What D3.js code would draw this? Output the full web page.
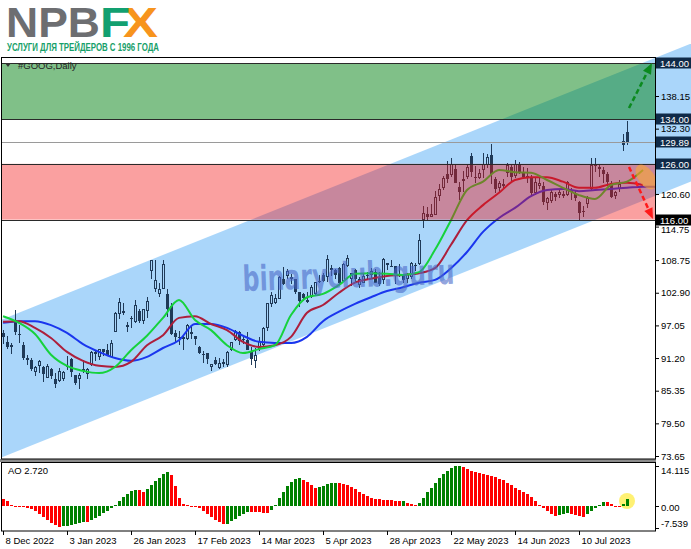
<!DOCTYPE html>
<html><head><meta charset="utf-8">
<script src="https://cdn.jsdelivr.net/npm/d3@7"></script>
<style>html,body{margin:0;padding:0;background:#fff;overflow:hidden}text{font-family:"Liberation Sans",Arial,sans-serif}</style>
</head><body><svg id="c" width="691" height="549"></svg>
<script>
// ---------- DATA ----------
const openP=[95.7,94.0,93.1,98.1,95.5,93.5,91.2,90.9,88.7,89.7,
89.6,87.6,89.3,87.5,87.0,87.4,89.8,91.0,88.1,87.4,
89.2,88.4,90.0,92.3,91.3,92.8,92.6,91.4,95.9,99.1,
99.6,97.1,98.3,97.6,99.6,97.9,99.7,106.8,103.5,102.7,
103.6,102.7,100.5,95.7,95.0,94.7,94.7,95.5,95.1,93.2,
91.9,92.1,89.6,90.9,89.5,90.2,89.9,92.7,94.4,95.9,
94.4,94.5,92.5,90.6,92.9,93.5,96.6,100.8,101.1,101.8,
105.3,105.9,105.7,105.4,103.0,102.7,101.6,102.2,102.7,104.8,
106.1,105.8,107.4,106.9,107.4,105.0,107.7,105.4,107.0,104.2,
104.7,106.1,106.1,106.6,105.6,105.2,107.8,107.7,107.7,106.2,
106.2,105.3,105.8,107.7,108.1,115.9,117.0,116.5,116.9,120.2,
121.6,124.2,124.0,125.1,121.9,123.3,123.6,127.4,123.7,123.5,
124.9,125.8,127.6,123.2,121.6,122.4,124.4,125.5,123.8,125.9,
124.5,123.5,123.7,120.8,122.1,122.0,118.9,119.3,120.6,120.5,
120.3,120.4,121.2,120.6,119.1,117.6,118.8,121.5,125.7,125.5,
124.9,124.1,122.5,120.3,121.5,130.1,131.7];
const highP=[96.2,95.2,93.9,99.8,97.2,94.0,91.8,91.2,89.8,90.9,
89.8,90.1,89.5,88.5,89.4,88.8,91.6,91.2,88.2,88.5,
90.8,89.4,92.5,92.6,92.9,92.9,93.8,94.4,99.4,101.9,
101.0,97.7,98.8,101.6,100.0,99.9,102.2,108.8,108.7,104.7,
108.7,103.6,101.0,96.3,96.0,95.2,97.3,97.0,95.2,93.4,
92.5,92.1,90.2,91.3,91.2,91.0,92.4,94.1,96.3,96.1,
95.1,95.9,93.2,93.0,94.9,96.7,101.1,103.0,102.6,105.9,
107.5,107.1,106.2,105.4,103.0,102.8,103.0,104.2,104.9,106.1,
106.5,109.6,107.9,107.2,107.6,108.2,109.6,106.5,107.1,105.7,
106.4,106.6,107.3,107.1,106.6,109.1,108.3,108.7,107.7,108.1,
106.3,106.4,108.4,108.2,113.5,118.4,118.3,118.8,121.2,122.3,
123.9,126.5,127.1,126.0,122.8,124.8,126.0,127.9,125.6,125.0,
128.0,127.8,129.5,123.6,123.0,123.3,126.1,125.9,126.7,126.4,
125.5,125.2,124.0,123.4,123.4,122.7,120.1,121.4,121.0,121.3,
121.2,123.0,121.7,121.3,119.3,118.5,120.2,127.0,127.1,126.0,
125.4,124.6,123.0,121.2,123.1,131.4,133.6];
const lowP=[93.8,92.9,91.9,95.4,93.9,90.8,90.0,88.9,88.0,88.6,
86.9,87.6,87.5,85.9,86.9,87.0,89.0,87.8,86.4,85.6,
88.6,87.4,89.7,90.6,90.9,91.5,91.8,91.4,95.9,98.2,
98.9,95.9,96.6,97.4,97.5,97.3,98.4,105.3,103.1,102.2,
103.5,98.5,95.4,94.0,93.6,92.6,94.4,94.7,93.5,92.0,
90.3,90.1,88.9,89.9,89.3,89.6,89.6,92.4,94.3,93.6,
93.8,92.6,90.0,89.4,92.5,93.3,96.1,100.3,100.8,101.8,
104.2,105.4,104.4,102.6,100.3,101.5,101.0,101.9,102.4,104.6,
104.8,104.8,105.9,105.3,104.5,104.9,107.6,104.1,104.9,103.8,
104.6,105.1,105.3,104.6,104.1,104.5,107.0,107.5,104.5,105.8,
104.7,104.7,105.3,106.8,107.8,114.5,115.7,116.5,116.8,119.4,
121.3,122.5,123.6,122.6,119.5,121.0,123.3,123.7,122.6,123.3,
123.5,125.2,122.4,120.8,120.9,121.6,123.6,123.0,123.5,124.1,
123.3,122.6,120.4,120.4,121.4,118.7,117.8,118.9,119.3,119.9,
119.8,120.2,119.6,119.3,115.8,116.4,118.0,121.3,124.6,123.6,
122.6,122.0,119.8,119.7,120.9,128.3,129.3];
const closeP=[94.9,93.1,93.6,95.9,95.3,91.2,90.9,89.2,89.6,90.6,
88.3,89.8,87.9,86.5,88.9,88.7,89.7,88.7,86.8,88.2,
88.8,89.2,92.3,91.9,92.8,92.2,91.8,93.9,99.3,101.2,
99.2,96.7,98.2,100.7,97.9,99.9,101.4,108.8,105.2,103.6,
108.0,100.0,95.5,94.9,95.0,94.95,97.1,95.8,94.6,92.1,
91.8,91.1,90.1,90.1,90.3,90.5,92.3,94.0,96.0,94.2,
94.65,92.7,91.0,91.7,94.3,96.6,101.1,102.5,102.0,105.8,
104.4,106.8,105.4,103.1,101.4,101.9,101.3,104.0,104.9,105.0,
104.95,108.9,106.95,106.1,104.6,108.0,109.2,106.4,105.3,105.4,
105.9,105.9,106.8,104.6,104.5,108.9,108.2,107.7,105.98,106.1,
105.2,106.2,108.2,107.9,112.3,117.2,116.5,117.0,120.1,121.5,
123.5,123.3,125.9,122.6,120.9,122.9,125.4,124.6,123.4,124.4,
126.0,127.3,124.2,121.4,122.5,122.0,125.7,123.7,125.9,124.4,
123.6,123.9,120.7,122.8,122.5,119.1,119.8,121.0,120.0,121.0,
120.6,122.7,120.9,119.9,117.1,117.6,119.9,125.8,125.6,125.0,
124.1,122.8,120.1,120.9,122.3,129.3,129.89];

// Alligator lines, one value every 4 bars (bar 0, 4, 8, ...)
const lineStep=4;
const lipsGreen=[98.7,97.5,95.5,91.8,89.8,88.9,88.5,89.6,92.6,95.2,98.4,101.6,98.0,96.2,93.5,92.1,92.8,93.5,98.9,102.1,102.7,104.3,106.3,106.4,106.3,106.1,106.6,110.6,115.9,121.3,122.8,124.9,124.5,124.4,123.1,121.7,120.4,119.7,122.2,122.8,124.9];
const teethRed=[97.7,97.8,96.6,94.8,92.3,90.7,89.8,89.6,90.5,93.5,95.3,98.4,98.7,97.3,96.2,94.1,93.2,93.5,95.0,99.3,100.7,102.9,104.7,105.4,105.9,106.1,106.4,107.3,111.5,115.9,118.6,120.8,123.1,123.6,123.6,122.8,121.7,121.7,122.4,122.6,122.2];
const jawBlue=[97.5,97.8,97.8,97.1,95.7,93.7,92.3,91.2,90.7,91.4,93.0,94.4,97.3,97.3,96.6,95.2,94.1,93.9,93.9,95.0,97.8,99.5,100.9,102.1,103.2,103.9,104.7,105.2,107.3,110.2,113.8,116.3,118.1,120.2,121.3,121.5,121.1,121.3,121.5,121.7,121.9,121.9];

// Awesome Oscillator
const aoValues=[2.7,1.8,0.4,0.1,-0.1,-0.2,-0.5,-1.0,-1.7,-2.6,
-3.6,-4.7,-5.7,-6.6,-7.1,-7.0,-6.8,-6.5,-6.2,-5.8,
-5.3,-5.4,-4.8,-4.0,-3.2,-2.3,-1.5,-0.5,0.4,1.9,
3.3,4.5,5.3,5.9,5.8,5.0,6.2,7.5,8.8,9.8,
11.2,12.0,10.8,7.0,3.0,1.0,0.5,0.2,-0.1,-0.7,
-1.5,-2.6,-3.7,-4.8,-5.6,-6.2,-6.0,-5.2,-4.3,-3.4,
-2.6,-1.9,-2.0,-2.1,-2.1,-2.3,-2.3,-1.2,0.6,3.0,
5.2,7.0,8.6,9.5,9.8,9.4,8.4,7.5,6.4,6.8,
7.3,7.8,8.1,8.3,8.2,8.0,7.4,6.7,6.0,5.1,
4.3,3.6,3.0,2.6,2.5,2.4,2.3,2.2,1.9,1.8,
1.9,1.3,0.8,0.5,1.3,3.0,4.9,6.6,8.3,9.8,
11.2,12.3,13.3,14.0,14.1,13.6,13.0,12.5,12.0,11.6,
11.3,11.0,10.7,10.3,9.7,9.1,8.3,7.4,6.6,5.8,
5.0,4.2,3.3,2.0,0.6,-0.5,-1.6,-2.5,-3.2,-2.9,
-2.6,-2.4,-2.5,-2.9,-3.3,-3.6,-2.7,-1.5,-0.4,0.6,
1.6,1.5,1.0,0.3,-0.2,1.0,2.72];

const dateLabels=["8 Dec 2022","3 Jan 2023","26 Jan 2023","17 Feb 2023","14 Mar 2023","5 Apr 2023","28 Apr 2023","22 May 2023","14 Jun 2023","10 Jul 2023"];
const dateBars=[0,16,32,48,64,80,96,112,128,144];
const priceTicks=[138.15,132.30,120.60,114.75,108.75,102.90,97.05,91.20,85.35,79.50,73.65];
const levelBoxes=[144.00,134.00,129.89,126.00,116.00];
const greenZone=[134.00,144.00];
const redZone=[116.00,126.00];
const channelBars=[0,160];
const channelUpper=[98.2,144.1];
const channelLower=[73.5,119.4];
const aoTicks=[14.115,0.00,-7.539];
const aoLast=2.720;

// ---------- SCALES ----------
const svg=d3.select('#c');
const x=d3.scaleLinear().domain([0,1]).range([3,7]);
const y=d3.scaleLinear().domain([73.65,138.15]).range([456,96]);
const yAO=d3.scaleLinear().domain([-7.539,14.115]).range([528,466]);

svg.append('rect').attr('width',691).attr('height',549).attr('fill','#fff');
const defs=svg.append('defs');
defs.append('clipPath').attr('id','main').append('rect').attr('x',2).attr('y',58).attr('width',653).attr('height',401);
defs.append('clipPath').attr('id','chan').append('rect').attr('x',2).attr('y',44).attr('width',689).attr('height',415);

// ---------- LOGO (one text element) ----------
const logo=svg.append('text').attr('font-weight','bold');
logo.append('tspan').attr('x',6).attr('y',37).attr('font-size',42).attr('fill','#6d6e71')
  .attr('textLength',94).attr('lengthAdjust','spacingAndGlyphs').text('NPB');
logo.append('tspan').attr('x',123).attr('y',37).attr('font-size',42).attr('fill','#f7941d')
  .attr('textLength',35).attr('lengthAdjust','spacingAndGlyphs').text('X');
logo.append('tspan').attr('x',100).attr('y',37).attr('font-size',42).attr('fill','#12a070')
  .attr('textLength',30).attr('lengthAdjust','spacingAndGlyphs').text('F');
logo.append('tspan').attr('x',7).attr('y',51).attr('font-size',11.5).attr('fill','#17a06a')
  .attr('textLength',152).attr('lengthAdjust','spacingAndGlyphs').text('УСЛУГИ ДЛЯ ТРЕЙДЕРОВ С 1996 ГОДА');

// ---------- CHANNEL ----------
const slopeU=(channelUpper[1]-channelUpper[0])/(channelBars[1]-channelBars[0]);
const slopeL=(channelLower[1]-channelLower[0])/(channelBars[1]-channelBars[0]);
const b0=-3,b1=175;
const up=b=>channelUpper[0]+slopeU*(b-channelBars[0]);
const lo=b=>channelLower[0]+slopeL*(b-channelBars[0]);
svg.append('g').attr('clip-path','url(#chan)').append('polygon')
  .attr('points',[[x(b0),y(up(b0))],[x(b1),y(up(b1))],[x(b1),y(lo(b1))],[x(b0),y(lo(b0))]].map(p=>p.join(',')).join(' '))
  .attr('fill','rgb(100,180,245)').attr('fill-opacity',0.55);

// ---------- CANDLES ----------
const cCol='#1f3a58';
const gC=svg.append('g').attr('clip-path','url(#main)').attr('shape-rendering','crispEdges').attr('fill',cCol);
const R=(xx,yy,w,h)=>gC.append('rect').attr('x',xx).attr('y',yy).attr('width',w).attr('height',Math.max(1,h));
openP.forEach((o,i)=>{
  const cx=Math.round(x(i)), c=closeP[i];
  const yh=Math.round(y(highP[i])), yl=Math.round(y(lowP[i]));
  const top=Math.round(y(Math.max(o,c))), bot=Math.round(y(Math.min(o,c)));
  const h=Math.max(1,bot-top);
  if(c>o && h>2){
    if(top>yh) R(cx,yh,1,top-yh);
    if(yl>bot) R(cx,bot,1,yl-bot);
    R(cx-1,top,1,h); R(cx+1,top,1,h); R(cx,top,1,1); R(cx,bot-1,1,1);
  } else {
    R(cx,yh,1,yl-yh);
    R(cx-1,top,3,h);
  }
});

// ---------- ALLIGATOR ----------
const gL=svg.append('g').attr('clip-path','url(#main)');
const mk=arr=>arr.map((v,k)=>({b:k*lineStep,v}));
const line=d3.line().x(d=>x(d.b)).y(d=>y(d.v)).curve(d3.curveMonotoneX);
[[jawBlue,'#1a36ee'],[teethRed,'#ad1f3c'],[lipsGreen,'#16d23c']].forEach(([arr,col])=>{
  gL.append('path').attr('d',line(mk(arr))).attr('fill','none').attr('stroke',col).attr('stroke-width',2);
});

// ---------- ZONES ----------
const gZ=svg.append('g').attr('clip-path','url(#main)');
gZ.append('rect').attr('x',2).attr('width',653).attr('y',y(greenZone[1])).attr('height',y(greenZone[0])-y(greenZone[1]))
  .attr('fill','rgb(1,129,17)').attr('fill-opacity',0.5);
gZ.append('rect').attr('x',2).attr('width',653).attr('y',y(redZone[1])).attr('height',y(redZone[0])-y(redZone[1]))
  .attr('fill','rgb(242,17,17)').attr('fill-opacity',0.4);
[greenZone[1],greenZone[0],redZone[1],redZone[0]].forEach(v=>{
  gZ.append('line').attr('x1',2).attr('x2',655).attr('y1',Math.round(y(v))+0.5).attr('y2',Math.round(y(v))+0.5)
    .attr('stroke','#2a2a2a').attr('stroke-width',1);
});
gZ.append('line').attr('x1',2).attr('x2',655).attr('y1',Math.round(y(129.89))+0.5).attr('y2',Math.round(y(129.89))+0.5)
  .attr('stroke','#9a9a9a').attr('stroke-width',1);

// watermark
svg.append('text').attr('x',243).attr('y',291).attr('font-size',35).attr('font-weight','bold')
  .attr('fill','rgb(75,105,200)').attr('fill-opacity',0.6).attr('textLength',212).attr('lengthAdjust','spacingAndGlyphs')
  .attr('transform','rotate(-2,243,291)').style('font-family','"DejaVu Sans",sans-serif').text('binaryclub.guru');

// annotations
const gA=svg.append('g').attr('clip-path','url(#main)');
gA.append('ellipse').attr('cx',646).attr('cy',177).attr('rx',8).attr('ry',14).attr('transform','rotate(-35,646,177)')
  .attr('fill','rgb(255,170,40)').attr('fill-opacity',0.55);
function arrow(x0,y0,x1,y1,col){
  const dx=x1-x0,dy=y1-y0,L=Math.hypot(dx,dy),ux=dx/L,uy=dy/L,px=-uy,py=ux;
  const bx=x1-11*ux,by=y1-11*uy;
  svg.append('line').attr('x1',x0).attr('y1',y0).attr('x2',bx).attr('y2',by).attr('stroke',col).attr('stroke-width',2.5).attr('stroke-dasharray','5,3');
  svg.append('polygon').attr('points',`${x1},${y1} ${bx+4.5*px},${by+4.5*py} ${bx-4.5*px},${by-4.5*py}`).attr('fill',col);
}
arrow(629,108,652,63,'#0b8a1e');
arrow(629,167,653,219,'#ff1a1a');

// ---------- PRICE AXIS ----------
svg.append('g').attr('transform','translate(655,0)')
  .call(d3.axisRight(y).tickValues(priceTicks).tickSize(4).tickFormat(d3.format('.2f')))
  .call(g=>{g.select('.domain').remove();g.selectAll('line').attr('stroke','#000');
    g.selectAll('text').attr('x',6).attr('font-size',9.5).attr('fill','#000').style('font-family','"Liberation Sans",Arial,sans-serif')
     .attr('dy',d=>d===114.75?'0.62em':'0.32em');});
levelBoxes.forEach(v=>{
  const yy=Math.round(y(v));
  svg.append('rect').attr('x',656).attr('y',yy-5.5).attr('width',35).attr('height',11).attr('fill',v===116?'#000':'#0f2a48');
  svg.append('text').attr('x',660).attr('y',yy+3.5).attr('font-size',9.5).attr('fill','#fff').text(v.toFixed(2));
});

// ---------- AO PANEL ----------
svg.append('circle').attr('cx',627).attr('cy',501).attr('r',8).attr('fill','rgb(255,238,90)').attr('fill-opacity',0.85);
const gAO=svg.append('g').attr('shape-rendering','crispEdges');
aoValues.forEach((v,i)=>{
  const upb=i>0 && v>aoValues[i-1];
  const y0=yAO(Math.max(0,v)), y1=yAO(Math.min(0,v));
  gAO.append('rect').attr('x',Math.round(x(i))-1).attr('y',y0).attr('width',3).attr('height',Math.max(1,y1-y0))
    .attr('fill',upb?'#008000':'#ff0000');
});
svg.append('text').attr('x',8).attr('y',474).attr('font-size',9.5).attr('fill','#000').text('AO '+aoLast.toFixed(3));
const aoLabY=[470,507,523];
aoTicks.forEach((v,k)=>{
  svg.append('line').attr('x1',655).attr('x2',659).attr('y1',Math.round(yAO(v))+0.5).attr('y2',Math.round(yAO(v))+0.5).attr('stroke','#000');
  svg.append('text').attr('x',661).attr('y',aoLabY[k]+3.5).attr('font-size',9.5).attr('fill','#000').text(v===0?'0.00':v.toFixed(3));
});

// ---------- DATE AXIS ----------
dateBars.forEach((b,k)=>{
  const xx=Math.round(x(b))+0.5;
  svg.append('line').attr('x1',xx).attr('x2',xx).attr('y1',531).attr('y2',535).attr('stroke','#000');
  svg.append('text').attr('x',xx+2).attr('y',544).attr('font-size',9.5).attr('fill','#000').text(dateLabels[k]);
});

// ---------- FRAMES ----------
svg.append('rect').attr('x',0).attr('y',459).attr('width',656).attr('height',3).attr('fill','#8c8c8c');
svg.append('rect').attr('x',1.5).attr('y',57.5).attr('width',654).attr('height',401.5).attr('fill','none').attr('stroke','#000');
svg.append('rect').attr('x',1.5).attr('y',462.5).attr('width',654).attr('height',68.5).attr('fill','none').attr('stroke','#000');
svg.append('path').attr('d','M5,63 L11,63 L8,67 Z').attr('fill','#333');
svg.append('text').attr('x',18).attr('y',69).attr('font-size',9.5).attr('fill','#222').text('#GOOG,Daily');
</script></body></html>
